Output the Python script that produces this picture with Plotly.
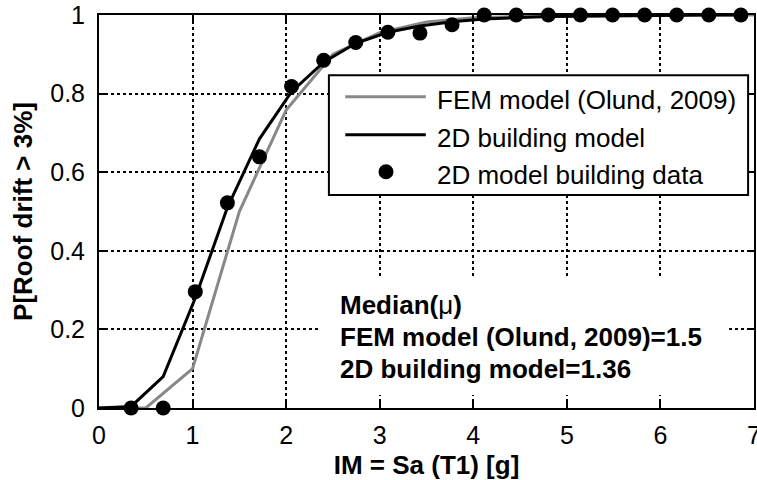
import plotly.graph_objects as go

# Fragility curves: probability of roof drift exceeding 3% vs spectral acceleration
fem_im = [0.0, 0.5, 1.0, 1.5, 2.0, 2.5, 3.0, 3.5, 4.0, 4.5, 5.0, 5.5, 6.0, 6.5, 7.0]
fem_p = [0.0, 0.0, 0.10, 0.50, 0.758, 0.90, 0.955, 0.982, 0.993, 0.997, 1.0, 1.0, 1.0, 1.0, 1.0]

model_im = [0.0, 0.343, 0.686, 1.029, 1.372, 1.715, 2.058, 2.401, 2.744, 3.087, 3.43,
            3.773, 4.116, 4.459, 4.802, 5.145, 5.488, 5.831, 6.174, 6.517, 6.86]
model_p = [0.0, 0.004, 0.08, 0.28, 0.51, 0.685, 0.805, 0.88, 0.928, 0.956, 0.972,
           0.983, 0.99, 0.993, 0.996, 0.997, 0.998, 0.999, 0.999, 1.0, 1.0]

data_im = [0.343, 0.686, 1.029, 1.372, 1.715, 2.058, 2.401, 2.744, 3.087, 3.43,
           3.773, 4.116, 4.459, 4.802, 5.145, 5.488, 5.831, 6.174, 6.517, 6.86]
data_p = [0.0, 0.0, 0.296, 0.522, 0.639, 0.818, 0.885, 0.93, 0.956, 0.954,
          0.975, 1.0, 1.0, 1.0, 1.0, 1.0, 1.0, 1.0, 1.0, 1.0]

legend_labels = ["FEM model (Olund, 2009)", "2D building model", "2D model building data"]
median_lines = ["Median(μ)", "FEM model (Olund, 2009)=1.5", "2D building model=1.36"]

GRAY = "#888888"
FONT = "Liberation Sans, Arial, sans-serif"

fig = go.Figure()
fig.add_trace(go.Scatter(x=fem_im, y=fem_p, mode="lines", name=legend_labels[0],
                         line=dict(color=GRAY, width=3), cliponaxis=False))
fig.add_trace(go.Scatter(x=model_im, y=model_p, mode="lines", name=legend_labels[1],
                         line=dict(color="black", width=3), cliponaxis=False))
fig.add_trace(go.Scatter(x=data_im, y=data_p, mode="markers", name=legend_labels[2],
                         marker=dict(color="black", size=15), cliponaxis=False))

axis_common = dict(
    showline=True, linecolor="black", linewidth=2, mirror="ticks",
    ticks="inside", ticklen=6, tickwidth=1.5, tickcolor="black",
    showgrid=True, gridcolor="black", gridwidth=1.5, griddash="3px,3px",
    zeroline=False, tickfont=dict(family=FONT, size=25, color="black"),
    ticklabeloverflow="allow", automargin=False,
)

fig.update_xaxes(range=[0, 7], dtick=1, **axis_common,
                 ticklabelstandoff=4,
                 title=dict(text="<b>IM = Sa (T1) [g]</b>", standoff=8,
                            font=dict(family=FONT, size=26, color="black")))
fig.update_yaxes(range=[0, 1], dtick=0.2, **axis_common,
                 ticklabelstandoff=7,
                 title=dict(text="<b>P[Roof drift > 3%]</b>", standoff=10,
                            font=dict(family=FONT, size=26, color="black")))

shapes = []
annotations = []

# Legend panel
shapes.append(dict(type="rect", xref="paper", yref="paper", x0=0.351, x1=0.991,
                   y0=0.542, y1=0.847, fillcolor="white",
                   line=dict(color="black", width=2), layer="above"))
rows_y = [0.792, 0.695, 0.601]
shapes.append(dict(type="line", xref="paper", yref="paper", x0=0.376, x1=0.499,
                   y0=rows_y[0], y1=rows_y[0], line=dict(color=GRAY, width=3), layer="above"))
shapes.append(dict(type="line", xref="paper", yref="paper", x0=0.376, x1=0.499,
                   y0=rows_y[1], y1=rows_y[1], line=dict(color="black", width=3), layer="above"))
r = 7.5
cx, cy = 386, 408 - rows_y[2] * 393
shapes.append(dict(type="circle", xref="paper", yref="paper",
                   x0=(cx - r - 99) / 655, x1=(cx + r - 99) / 655,
                   y0=(408 - (cy + r)) / 393, y1=(408 - (cy - r)) / 393,
                   fillcolor="black", line=dict(color="black", width=0), layer="above"))
for label, yy in zip(legend_labels, rows_y):
    annotations.append(dict(text=label, xref="paper", yref="paper", x=0.513, y=yy - 0.008,
                            xanchor="left", yanchor="middle", showarrow=False,
                            font=dict(family=FONT, size=26, color="black")))

# Median summary box
shapes.append(dict(type="rect", xref="paper", yref="paper", x0=0.337, x1=0.962,
                   y0=0.033, y1=0.336, fillcolor="white", line=dict(width=0),
                   layer="above"))
for text, yy in zip(median_lines, [0.262, 0.180, 0.100]):
    annotations.append(dict(text=f"<b>{text}</b>".replace("μ", "</b>μ<b>"),
                            xref="paper", yref="paper", x=0.365, y=yy,
                            xanchor="left", yanchor="middle", showarrow=False,
                            font=dict(family=FONT, size=26, color="black")))

fig.update_layout(
    width=757, height=480,
    margin=dict(l=99, r=3, t=15, b=72, autoexpand=False),
    paper_bgcolor="white", plot_bgcolor="white",
    showlegend=False,
    shapes=shapes, annotations=annotations,
    font=dict(family=FONT, color="black"),
)

fig.write_html("out.html")
